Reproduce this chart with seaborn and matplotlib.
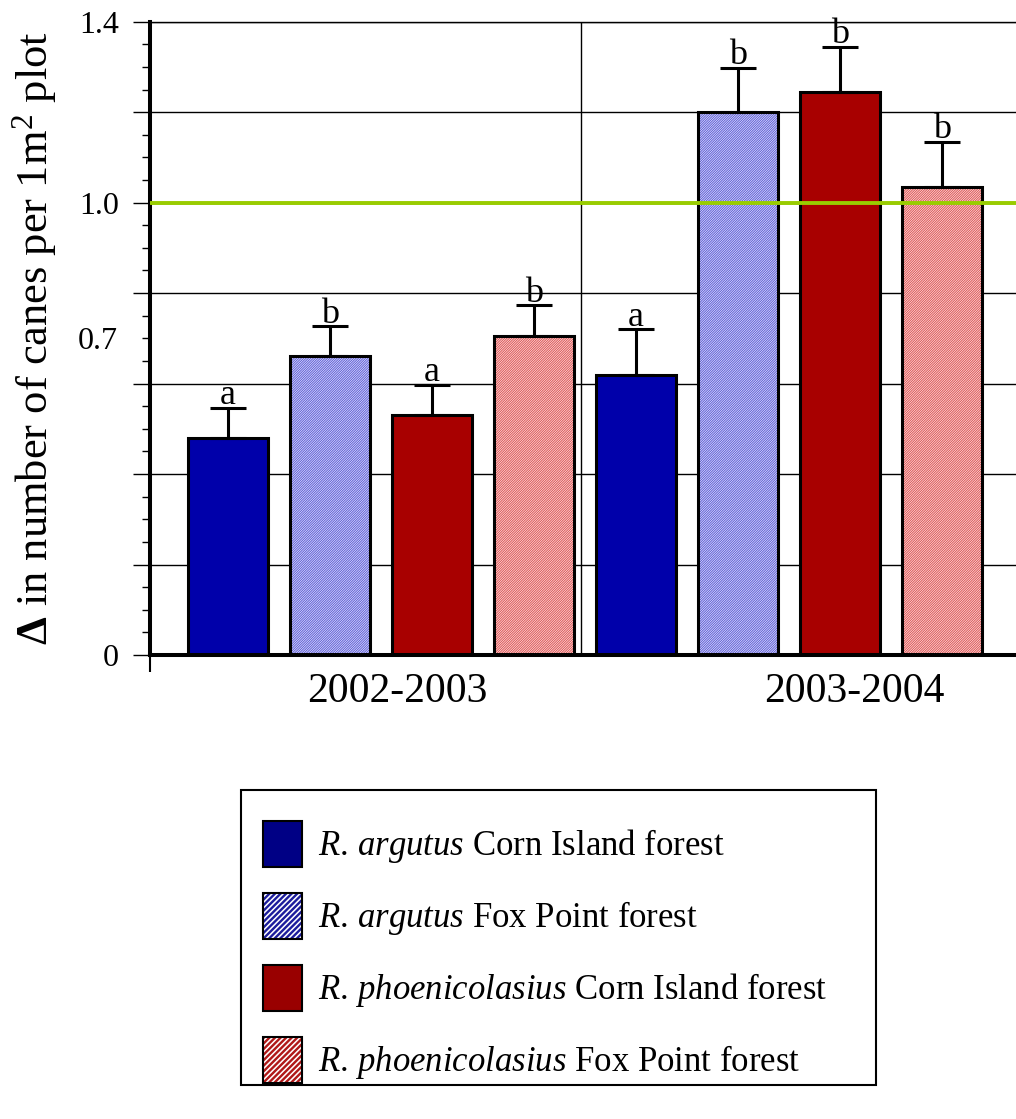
import numpy as np
import pandas as pd
import matplotlib
matplotlib.use("Agg")
import matplotlib.pyplot as plt
import seaborn as sns
from matplotlib.patches import Patch, Rectangle
from matplotlib.collections import LineCollection
from matplotlib.legend_handler import HandlerBase
from matplotlib.ticker import MultipleLocator, FuncFormatter, FixedLocator

# ---- data -------------------------------------------------------------
periods = ["2002-2003", "2003-2004"]
groups = [
    r"$\it{R.\,argutus}$ Corn Island forest",
    r"$\it{R.\,argutus}$ Fox Point forest",
    r"$\it{R.\,phoenicolasius}$ Corn Island forest",
    r"$\it{R.\,phoenicolasius}$ Fox Point forest",
]
mean_0203 = [0.48, 0.66, 0.53, 0.705]
mean_0304 = [0.62, 1.20, 1.245, 1.035]
se_0203 = [0.066, 0.067, 0.067, 0.068]
se_0304 = [0.10, 0.098, 0.10, 0.10]
letters_0203 = ["a", "b", "a", "b"]
letters_0304 = ["a", "b", "b", "b"]
reference_level = 1.0

df = pd.DataFrame({
    "period": [periods[0]] * 4 + [periods[1]] * 4,
    "group": groups * 2,
    "mean": mean_0203 + mean_0304,
    "se": se_0203 + se_0304,
    "letter": letters_0203 + letters_0304,
})

# ---- style ------------------------------------------------------------
sns.set_style("white")
plt.rcParams["font.family"] = ["Liberation Serif", "DejaVu Serif"]
plt.rcParams["mathtext.fontset"] = "custom"
plt.rcParams["mathtext.rm"] = "Liberation Serif"
plt.rcParams["mathtext.it"] = "Liberation Serif:italic"
plt.rcParams["mathtext.bf"] = "Liberation Serif:bold"
plt.rcParams["text.color"] = "black"
plt.rcParams["axes.labelcolor"] = "black"
plt.rcParams["xtick.color"] = "black"
plt.rcParams["ytick.color"] = "black"
plt.rcParams["hatch.linewidth"] = 0.8

# fill style per group: (face, hatch colour or None)
solid_blue = "#0000AA"
solid_red = "#A80000"
hatch_blue = "#6262DA"
hatch_red = "#E05A5A"
styles = [
    dict(face=solid_blue, hatch=None, legend="#000085"),
    dict(face="white", hatch=hatch_blue, legend="#1C1C9C"),
    dict(face=solid_red, hatch=None, legend="#990000"),
    dict(face="white", hatch=hatch_red, legend="#B01818"),
]


class StripeHandler(HandlerBase):
    """Legend key: white box with bold diagonal stripes and a black frame."""

    def __init__(self, color, n_stripes=7, lw=1.7):
        super().__init__()
        self.color = color
        self.n = n_stripes
        self.lw = lw

    def create_artists(self, legend, orig_handle, xdescent, ydescent,
                       width, height, fontsize, trans):
        x0, y0 = -xdescent, -ydescent
        bg = Rectangle((x0, y0), width, height, facecolor="white",
                       edgecolor="none", transform=trans)
        step = width / self.n
        segs = []
        for k in range(-2 * self.n, 2 * self.n):
            x = x0 + k * step
            segs.append([(x, y0), (x + height, y0 + height)])
        lc = LineCollection(segs, colors=self.color, linewidths=self.lw,
                            transform=trans)
        lc.set_clip_path(bg)
        edge = Rectangle((x0, y0), width, height, fill=False,
                         edgecolor="black", linewidth=1.5, transform=trans)
        return [bg, lc, edge]


W, H = 1016, 1119
fig = plt.figure(figsize=(W / 100, H / 100), dpi=100)
ax = fig.add_axes([150 / W, 1 - 655 / H, 880 / W, (655 - 21.7) / H])

sns.barplot(
    data=df, x="period", y="mean", hue="group",
    order=periods, hue_order=groups,
    palette=[s["face"] for s in styles],
    saturation=1, width=1.0, gap=0.216,
    errorbar=None, legend=False, ax=ax, zorder=2,
)

# restyle bars: hatched fill underneath, black outline on top
for cont, st in zip(ax.containers, styles):
    for bar in cont:
        bar.set_linewidth(0)
        if st["hatch"] is not None:
            bar.set_facecolor("white")
            bar.set_edgecolor(st["hatch"])
            bar.set_hatch("/" * 14)
        outline = Rectangle(bar.get_xy(), bar.get_width(), bar.get_height(),
                            fill=False, edgecolor="black", linewidth=2.2,
                            zorder=2.5)
        ax.add_patch(outline)

# upper error bars and significance letters
for cont, gname in zip(ax.containers, groups):
    sub = df[df["group"] == gname].set_index("period").loc[periods]
    xs = [b.get_x() + b.get_width() / 2 for b in cont]
    ys = sub["mean"].to_numpy()
    es = sub["se"].to_numpy()
    ax.errorbar(xs, ys, yerr=[np.zeros_like(es), es], fmt="none",
                ecolor="black", elinewidth=2.2, capsize=13, capthick=2.2,
                zorder=3)
    for x, y, e, lab in zip(xs, ys, es, sub["letter"]):
        ax.text(x, y + e + 0.008, lab, ha="center", va="baseline",
                fontsize=26, zorder=5)

ax.axhline(reference_level, color="#99CC00", linewidth=2.8, zorder=4)
ax.axvline(0.49, color="black", linewidth=1.0, zorder=0.5)

# axes limits and ticks
ax.set_ylim(0, 1.4)
ax.set_xlim(-0.566, 1.591)
ax.yaxis.set_major_locator(MultipleLocator(0.2))
ax.yaxis.set_minor_locator(MultipleLocator(0.05))
shown_major = {0.0: "0", 1.0: "1.0", 1.4: "1.4"}
ax.yaxis.set_major_formatter(FuncFormatter(
    lambda v, p: next((t for k, t in shown_major.items() if abs(v - k) < 1e-6), "")))
ax.yaxis.set_minor_formatter(FuncFormatter(
    lambda v, p: "0.7" if abs(v - 0.7) < 1e-6 else ""))
ax.tick_params(axis="y", which="major", length=12, width=1.0, pad=10.5,
               labelsize=23, left=True, direction="out")
ax.tick_params(axis="y", which="minor", length=6, width=1.0, pad=17,
               labelsize=23, left=True, direction="out")
ax.yaxis.grid(True, which="major", color="black", linewidth=1.0, zorder=0)
ax.set_axisbelow(True)

ax.set_xticks([0.04, 1.16], labels=periods)
ax.xaxis.set_minor_locator(FixedLocator([-0.566]))
ax.tick_params(axis="x", which="major", length=0, pad=12.5, labelsize=30)
ax.tick_params(axis="x", which="minor", length=12, width=1.5,
               bottom=True, direction="out")
ax.set_xlabel("")

for side in ["left", "bottom"]:
    ax.spines[side].set_linewidth(2.9)
    ax.spines[side].set_color("black")
ax.spines["top"].set_linewidth(1.0)
ax.spines["top"].set_color("black")
ax.spines["right"].set_visible(False)

ax.set_ylabel(r"$\mathbf{\Delta}$ in number of canes per 1m$^2$ plot",
              fontsize=32, labelpad=14)

# legend with its own frame box
legend_handles = []
handler_map = {}
for st in styles:
    if st["hatch"] is None:
        h = Patch(facecolor=st["legend"], edgecolor="black", linewidth=1.5)
    else:
        h = Patch(facecolor="white", edgecolor="black")
        handler_map[h] = StripeHandler(st["legend"])
    legend_handles.append(h)

fig.legend(legend_handles, groups, loc="upper left",
           bbox_to_anchor=(263 / W, 1 - 821 / H),
           frameon=False, borderpad=0, borderaxespad=0,
           handlelength=1.12, handleheight=1.66, handletextpad=0.46,
           labelspacing=0.75, fontsize=25, handler_map=handler_map)
fig.add_artist(Rectangle((241 / W, 1 - 1085 / H), (876 - 241) / W,
                         (1085 - 790) / H, transform=fig.transFigure,
                         fill=False, edgecolor="black", linewidth=1.5))

fig.savefig("out.png", dpi=100)
